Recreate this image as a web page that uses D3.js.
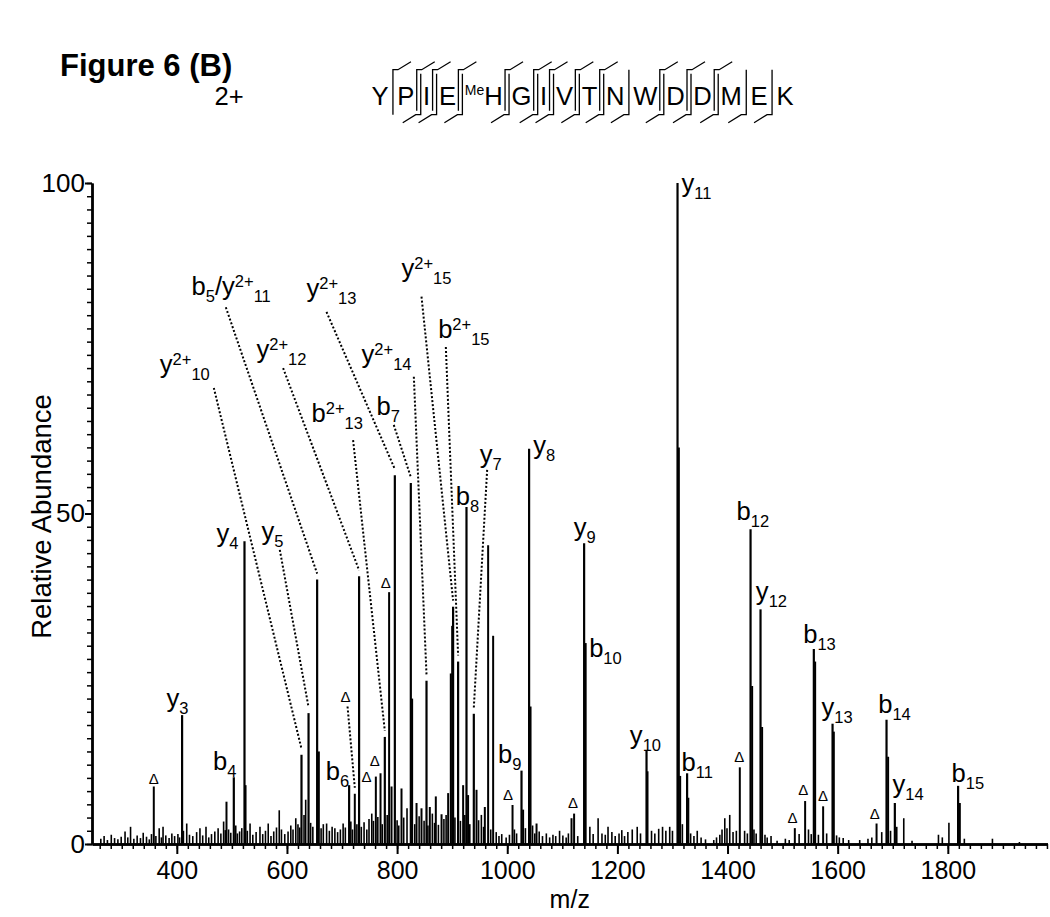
<!DOCTYPE html>
<html><head><meta charset="utf-8">
<script src="https://cdn.jsdelivr.net/npm/d3@7/dist/d3.min.js"></script>
<style>
body{margin:0;background:#fff;}
svg text{font-family:"Liberation Sans", Arial, Helvetica, sans-serif;fill:#000;}
</style></head><body>
<svg id="chart" width="1050" height="917"></svg>
<script>
// ---------------- DATA ----------------
const xMajorTicks = [400, 600, 800, 1000, 1200, 1400, 1600, 1800];
const yMajorTicks = [0, 50, 100];

const ionPeaks = [
  [409.6,19.5],[503.5,10.1],[522.9,45.8],[626.4,13.5],[639.2,19.8],[654.8,40.0],
  [712.9,8.9],[731.0,40.5],[777.7,16.2],[795.9,55.8],[824.9,54.6],[853.4,24.7],
  [901.7,35.9],[910.8,27.6],[926.0,51.0],[939.3,19.7],[1025.9,11.1],[1039.7,59.8],
  [1139.6,45.5],[1142.2,30.4],[1252.9,14.1],[1309.2,100],[1326.6,10.7],[1441.8,47.6],
  [1459.9,35.5],[1556.7,29.5],[1590.7,18.2],[1688.7,18.8],[1703.8,6.2],[1818.7,8.8]
];
const deltaPeaks = [
  [358.2,8.7],[723.2,7.6],[761.4,10.2],[769.9,10.7],[785.5,38.1],[1009.6,5.9],
  [1121.4,4.6],[1422.3,11.6],[1522.2,2.4],[1540.9,6.5],[1573.6,5.7],[1670.6,3.1]
];
const deltaMarks = [
  [358.2,9.9],[706.3,22.3],[744.5,10.2],[759.5,12.5],[779.5,39.5],[1001.6,7.4],
  [1119.6,6.2],[1421.1,13.2],[1518.0,3.9],[1537.3,8.2],[1573.6,7.2],[1667.5,4.5]
];
const otherPeaks = [
  [490.2,6.4],[524.8,8.9],[657.9,14.0],[789.9,8.7],[808,8.4],[827.3,22],[835.3,6.2],
  [844.3,5.4],[859.4,5.6],[870.3,7.2],[880.7,4.5],[892.7,7.7],[897.5,25.8],[900.0,33],
  [919.9,8.9],[928.9,7.4],[944.2,8.2],[959.3,5.6],[965.3,45.2],[974.4,31.5],[1028.8,5.2],
  [1042.3,20.8],[1053.2,3.1],[1116.7,3.9],[1254.7,11],[1311.6,60],[1314,10.3],[1328.8,7],
  [1444.7,23.9],[1462.8,17.7],[1559.1,27.6],[1593,17],[1691.6,13.2],[1706.9,2.6],[1821.8,6.2]
];
const noiseLow = [
  [262,0.8],[268,1.2],[274,0.6],[281,1.4],[287,0.9],[293,0.7],[299,1.1],[306,1.9],[311,1.0],
  [316,2.6],[322,0.8],[328,1.3],[334,0.9],[339,1.7],[345,1.1],[350,0.7],[354,1.5],[362,1.2],
  [368,2.4],[372,1.0],[375,2.6],[380,1.3],[386,0.9],[391,1.6],[396,1.2],[402,1.5],[405,1.0],
  [412,2.0],[418,3.1],[423,1.4],[429,1.2],[436,1.8],[442,2.4],[447,1.3],[453,2.6],[458,1.0],
  [463,1.5],[469,1.9],[475,2.4],[480,1.6],[485,3.4],[488,2.1],[494,2.2],[498,1.7],[507,2.8],
  [510,1.6],[514,1.9],[518,2.4],[528,2.0],[533,3.1],[538,1.4],[544,1.8],[551,2.6],[556,1.5],
  [561,2.0],[566,3.1],[571,1.2],[576,1.9],[581,2.5],[586,5.1],[590,2.2],[596,1.5],[602,1.9],
  [607,2.8],[611,2.2],[616,3.9],[620,3.0],[623,2.5],[631,4.4],[634,6.7],[643,3.2],[647,2.6]
];
const noiseMid = [
  [662,2.4],[666,3.0],[672,3.1],[677,2.0],[682,2.6],[687,2.4],[692,1.8],[697,2.2],[702,3.1],
  [706,2.5],[716,3.4],[719,2.2],[727,3.0],[735,2.6],[740,3.3],[745,2.2],[749,3.8],[754,4.6],
  [757,3.5],[765,4.1],[773,3.0],[782,4.4],[800,3.6],[803,2.8],[812,4.0],[818,5.4],[832,3.0],
  [840,4.2],[849,3.5],[856,2.8],[864,4.6],[868,3.2],[875,2.9],[885,3.8],[889,4.4],[905,4.0],
  [915,3.5],[923,4.4],[932,3.0],[948,3.6],[953,4.4],[957,2.6],[970,2.2],[980,1.8],[985,1.2],
  [990,1.5],[998,1.0]
];
const noiseHigh = [
  [1004,1.4],[1013,2.2],[1017,1.6],[1033,2.4],[1046,2.8],[1050,1.6],[1058,1.9],[1064,1.2],
  [1071,1.6],[1077,1.0],[1083,1.4],[1088,1.2],[1095,2.0],[1101,1.3],[1107,1.0],[1111,1.6],
  [1128,1.2],[1150,2.6],[1156,1.5],[1165,3.9],[1172,1.6],[1178,1.4],[1183,2.6],[1190,1.8],
  [1196,1.2],[1203,1.6],[1208,2.1],[1213,1.2],[1219,1.8],[1227,2.2],[1236,2.6],[1242,1.6],
  [1262,2.0],[1268,1.6],[1275,2.3],[1282,2.6],[1288,2.0],[1295,2.6],[1300,2.0],[1318,3.0],
  [1333,1.6],[1339,1.2],[1345,2.0],[1352,1.0],[1360,0.7],[1375,0.6],[1380,1.0],[1386,1.4],
  [1390,2.2],[1395,3.9],[1399,2.4],[1404,4.4],[1410,1.8],[1416,2.0],[1431,2.0],[1436,1.6],
  [1448,2.2],[1452,1.6],[1468,1.4],[1472,1.0],[1479,1.2],[1490,0.5],[1505,0.8],[1512,0.6],
  [1530,1.5],[1547,2.2],[1552,1.5],[1565,1.4],[1580,1.6],[1598,1.3],[1603,1.0],[1610,0.9],
  [1620,0.6],[1640,0.6],[1655,0.8],[1662,1.0],[1680,1.8],[1696,2.0],[1720,3.9],[1735,0.5],
  [1783,1.4],[1790,1.0],[1802,3.2],[1830,0.8],[1881,0.8],[1930,0.3]
];

const directLabels = [
  {parts:[["y","n"],["3","sub"]], at:[381.3,20.8]},
  {parts:[["b","n"],["4","sub"]], at:[465.9,11.2]},
  {parts:[["y","n"],["4","sub"]], at:[472.1,45.7]},
  {parts:[["b","n"],["6","sub"]], at:[670.6,9.7]},
  {parts:[["b","n"],["8","sub"]], at:[906.6,51.3]},
  {parts:[["y","n"],["8","sub"]], at:[1047,59.0]},
  {parts:[["y","n"],["9","sub"]], at:[1120.9,46.6]},
  {parts:[["b","n"],["9","sub"]], at:[983.4,12.2]},
  {parts:[["b","n"],["10","sub"]], at:[1148.7,28.3]},
  {parts:[["y","n"],["10","sub"]], at:[1222.6,15.2]},
  {parts:[["y","n"],["11","sub"]], at:[1316.5,98.7]},
  {parts:[["b","n"],["11","sub"]], at:[1316.5,11.0]},
  {parts:[["b","n"],["12","sub"]], at:[1416.4,49.0]},
  {parts:[["y","n"],["12","sub"]], at:[1451.4,36.9]},
  {parts:[["b","n"],["13","sub"]], at:[1537.3,30.4]},
  {parts:[["y","n"],["13","sub"]], at:[1570.7,19.3]},
  {parts:[["b","n"],["14","sub"]], at:[1673.5,19.8]},
  {parts:[["y","n"],["14","sub"]], at:[1699.6,7.7]},
  {parts:[["b","n"],["15","sub"]], at:[1806.8,9.4]}
];
const leaderLabels = [
  {parts:[["y","n"],["2+","sup"],["10","sub"]], at:[369.1,71.3], from:[467.2,69.0], to:626.4},
  {parts:[["b","n"],["5","sub"],["/y","n"],["2+","sup"],["11","sub"]], at:[426.7,83.1], from:[489,81.2], to:654.8},
  {parts:[["y","n"],["2+","sup"],["12","sub"]], at:[544.7,73.5], from:[593,72], to:731.0},
  {parts:[["y","n"],["2+","sup"],["13","sub"]], at:[635.5,82.8], from:[671.8,80.5], to:795.9},
  {parts:[["y","n"],["2+","sup"],["14","sub"]], at:[735.4,72.7], from:[830.4,70.7], to:853.4},
  {parts:[["y","n"],["2+","sup"],["15","sub"]], at:[808,85.8], from:[844.3,82.8], to:901.7},
  {parts:[["b","n"],["2+","sup"],["15","sub"]], at:[874.5,76.5], from:[888.5,75.2], to:910.8},
  {parts:[["b","n"],["2+","sup"],["13","sub"]], at:[644.6,63.9], from:[720.1,61.1], to:777.7},
  {parts:[["b","n"],["7","sub"]], at:[762.6,64.9], from:[794,63.4], to:824.9},
  {parts:[["y","n"],["7","sub"]], at:[950.2,57.6], from:[963.5,56.6], to:939.3},
  {parts:[["y","n"],["5","sub"]], at:[553.8,46.0], from:[587,44.5], to:639.2}
];
const deltaLeaders = [ {from:[710,20.8], to:723.2} ];

const seqResidues = ["Y","P","I","E","H","G","I","V","T","N","W","D","D","M","E","K"];
const seqMods = {4:"Me"};
const bCleavage = [1,1,1,1,1,1,1,1,1,0,1,1,1,0,0];
const yCleavage = [0,1,1,1,1,1,1,1,1,1,1,1,1,1,1];

// ---------------- DRAWING ----------------
const svg = d3.select("#chart");
const x = d3.scaleLinear().domain([246, 1981]).range([92, 1047.5]);
const y = d3.scaleLinear().domain([0, 100]).range([844, 183]);

svg.append("text").attr("x",60).attr("y",76).attr("font-size",31).attr("font-weight","bold").text("Figure 6 (B)");
svg.append("text").attr("x",229).attr("y",105).attr("text-anchor","middle").attr("font-size",25.6).text("2+");

const gPeaks = svg.append("g");
function drawPeaks(arr, w){
  gPeaks.selectAll(null).data(arr).enter().append("line")
    .attr("x1",d=>x(d[0])).attr("x2",d=>x(d[0]))
    .attr("y1",y(0)).attr("y2",d=>y(d[1]))
    .attr("stroke","#000").attr("stroke-width",w);
}
drawPeaks(noiseLow,1.6); drawPeaks(noiseMid,1.6); drawPeaks(noiseHigh,1.6);
drawPeaks(otherPeaks,2); drawPeaks(deltaPeaks,2); drawPeaks(ionPeaks,2.2);

const gx = svg.append("g").attr("transform",`translate(0,${y(0)})`);
gx.call(d3.axisBottom(x).tickValues(d3.range(260,1981,20)).tickSize(5).tickFormat("").tickSizeOuter(0));
gx.selectAll(".tick line").attr("stroke-width",1.5);
const gx2 = svg.append("g").attr("transform",`translate(0,${y(0)})`);
gx2.call(d3.axisBottom(x).tickValues(xMajorTicks).tickSize(10).tickPadding(7).tickFormat(d3.format("d")).tickSizeOuter(0));
gx2.selectAll(".tick line").attr("stroke-width",2);
gx2.selectAll(".tick text").attr("font-size",25).attr("font-family","Liberation Sans, Arial, sans-serif");

const gy = svg.append("g").attr("transform",`translate(${x(246)},0)`);
gy.call(d3.axisLeft(y).tickValues(d3.range(0,101,2)).tickSize(5).tickFormat("").tickSizeOuter(0));
gy.selectAll(".tick line").attr("stroke-width",1.5);
const gy2 = svg.append("g").attr("transform",`translate(${x(246)},0)`);
gy2.call(d3.axisLeft(y).tickValues(yMajorTicks).tickSize(7).tickPadding(0).tickFormat(d3.format("d")).tickSizeOuter(0));
gy2.selectAll(".tick line").attr("stroke-width",2);
gy2.selectAll(".tick text").attr("font-size",26).attr("font-family","Liberation Sans, Arial, sans-serif");
svg.selectAll(".domain").attr("stroke-width",2.4);

svg.append("text").attr("x",(x(246)+x(1981))/2).attr("y",908).attr("text-anchor","middle").attr("font-size",25).text("m/z");
svg.append("text").attr("transform",`translate(51,${(y(0)+y(100))/2+3}) rotate(-90)`).attr("text-anchor","middle").attr("font-size",27.5).text("Relative Abundance");

const MAIN=25.6, SMALL=16.5;
function drawLabel(parts, px, py){
  const t = svg.append("text").attr("x",px).attr("y",py).attr("font-size",MAIN);
  let cur = 0;
  parts.forEach(([s,type])=>{
    const target = type==="sup" ? -8 : type==="sub" ? 7 : 0;
    t.append("tspan").attr("dy",target-cur).attr("font-size",type==="n"?MAIN:SMALL).text(s);
    cur = target;
  });
}
directLabels.forEach(l=>drawLabel(l.parts, x(l.at[0]), y(l.at[1])));
leaderLabels.forEach(l=>drawLabel(l.parts, x(l.at[0]), y(l.at[1])));

const allPeaks = ionPeaks.concat(deltaPeaks, otherPeaks);
function peakVal(mz){ return allPeaks.find(p=>Math.abs(p[0]-mz)<0.01)[1]; }
const leaders = leaderLabels.map(l=>({from:l.from,to:l.to})).concat(deltaLeaders);
svg.append("g").selectAll(null).data(leaders).enter().append("line")
  .attr("x1",d=>x(d.from[0])).attr("y1",d=>y(d.from[1]))
  .attr("x2",d=>x(d.to)).attr("y2",d=>y(peakVal(d.to))-6)
  .attr("stroke","#000").attr("stroke-width",2).attr("stroke-dasharray","2,2");

svg.append("g").selectAll(null).data(deltaMarks).enter().append("text")
  .attr("x",d=>x(d[0])).attr("y",d=>y(d[1])+5).attr("text-anchor","middle")
  .attr("font-size",15).text("Δ");

const gSeq = svg.append("g");
const seqBase = 104.7, seqLeft = 371.5, seqRight = 793.5;
const tokens = seqResidues.map((r,i)=>{
  const g = gSeq.append("g");
  let w = 0;
  if(seqMods[i]){
    const m = g.append("text").attr("font-size",14).attr("y",seqBase-10).text(seqMods[i]);
    w += m.node().getComputedTextLength();
  }
  const t = g.append("text").attr("font-size",25.6).attr("y",seqBase).attr("x",w).text(r);
  w += t.node().getComputedTextLength();
  return {g,w};
});
const totalW = d3.sum(tokens,d=>d.w);
const gap = (seqRight-seqLeft-totalW)/(tokens.length-1);
let cx = seqLeft; const seps = [];
tokens.forEach((tk,i)=>{ tk.g.attr("transform",`translate(${cx},0)`); cx += tk.w; if(i<tokens.length-1){ seps.push(cx+gap/2); cx+=gap; } });
const sTop=69.7, sBot=114.7;
seps.forEach((sx,i)=>{
  const both = bCleavage[i] && yCleavage[i];
  if(bCleavage[i]){
    const bx = both ? sx-2 : sx;
    gSeq.append("path").attr("d",`M${bx},${both?sBot-4:sBot} L${bx},${sTop} L${bx+5},${sTop} L${bx+18},${sTop-8}`)
      .attr("fill","none").attr("stroke","#000").attr("stroke-width",1.3);
  }
  if(yCleavage[i]){
    const yx = both ? sx+2 : sx;
    gSeq.append("path").attr("d",`M${yx},${both?sTop+4:sTop} L${yx},${sBot} L${yx-5},${sBot} L${yx-18},${sBot+8}`)
      .attr("fill","none").attr("stroke","#000").attr("stroke-width",1.3);
  }
});
</script>
</body></html>
